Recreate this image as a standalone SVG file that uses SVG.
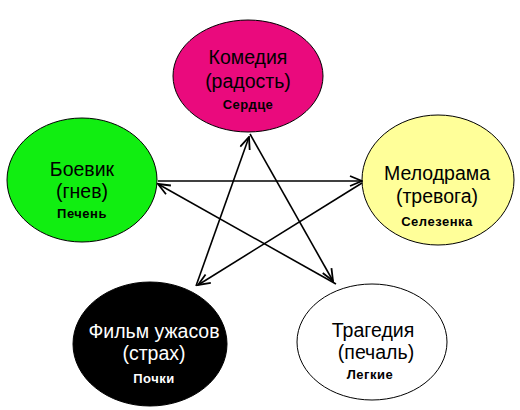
<svg xmlns="http://www.w3.org/2000/svg" width="520" height="410" viewBox="0 0 520 410">
<style>
.n{stroke:#000;stroke-width:1}
.t{font-family:"Liberation Sans",Arial,sans-serif;font-size:19.5px;text-anchor:middle;fill:#000}
.s{font-family:"Liberation Sans",Arial,sans-serif;font-size:13px;font-weight:bold;text-anchor:middle;fill:#000;letter-spacing:0.5px}
.w{fill:#fff}
.c{stroke:#000;stroke-width:1.6;fill:none;marker-end:url(#a)}
</style>
<defs>
<marker id="a" markerWidth="14" markerHeight="12" refX="13" refY="6" orient="auto" markerUnits="userSpaceOnUse">
<path d="M1,1 L13,6 L1,11" fill="none" stroke="#000" stroke-width="1.8"/>
</marker>
</defs>
<rect width="520" height="410" fill="#fff"/>
<g id="komedia">
<ellipse class="n" cx="248" cy="76" rx="75" ry="56" fill="#ea0a7d"/>
<text class="t" x="248" y="64">Комедия</text>
<text class="t" x="248" y="88">(радость)</text>
<text class="s" x="248" y="109">Сердце</text>
</g>
<g id="boevik">
<ellipse class="n" cx="82" cy="180" rx="75" ry="62" fill="#11ee11"/>
<text class="t" x="82" y="176">Боевик</text>
<text class="t" x="82" y="198">(гнев)</text>
<text class="s" x="82" y="218">Печень</text>
</g>
<g id="melodrama">
<ellipse class="n" cx="438" cy="180" rx="76" ry="65" fill="#ffff99"/>
<text class="t" x="437" y="180">Мелодрама</text>
<text class="t" x="437" y="203">(тревога)</text>
<text class="s" x="437" y="226">Селезенка</text>
</g>
<g id="film">
<ellipse class="n" cx="150" cy="344" rx="77" ry="62" fill="#000"/>
<text class="t w" x="154" y="338">Фильм ужасов</text>
<text class="t w" x="154" y="360">(страх)</text>
<text class="s w" x="154" y="383">Почки</text>
</g>
<g id="tragedia">
<ellipse class="n" cx="372" cy="342" rx="75" ry="58" fill="#fff"/>
<text class="t" x="373" y="337">Трагедия</text>
<text class="t" x="376" y="359">(печаль)</text>
<text class="s" x="370" y="379">Легкие</text>
</g>
<g id="connectors">
<line class="c" x1="158" y1="181" x2="362" y2="181"/>
<line class="c" x1="362" y1="183" x2="198" y2="285"/>
<line class="c" x1="196" y1="286" x2="249" y2="137"/>
<line class="c" x1="250" y1="134" x2="333" y2="281"/>
<line class="c" x1="336" y1="284" x2="158" y2="184"/>
</g>
</svg>
